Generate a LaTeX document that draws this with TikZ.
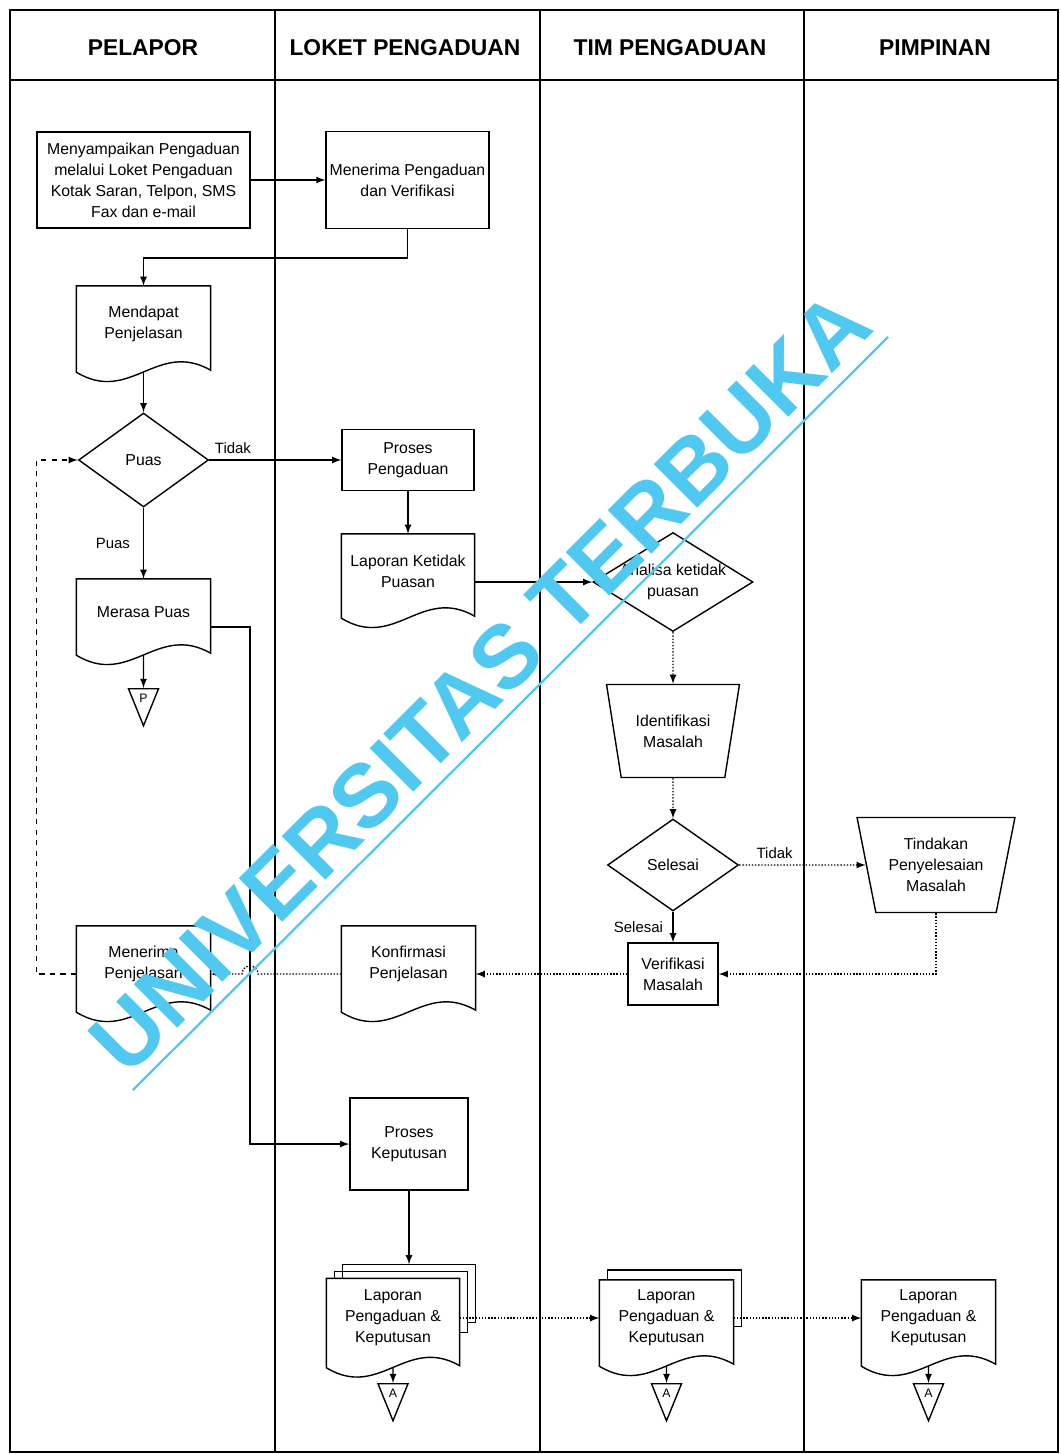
\documentclass[tikz,border=0pt]{standalone}
\usepackage{fontspec}
\setmainfont{Liberation Sans}
\usetikzlibrary{shapes.geometric, calc}
\definecolor{wmcyan}{RGB}{80, 200, 240}

% document outline with wavy bottom, drawn round a named node
\newcommand{\docwave}[1]{%
  \draw (#1.north west) -- ([yshift=-0.2cm]#1.south west)
    .. controls ($(#1.south west)!0.4!(#1.south east)+(0cm,-0.85cm)$) and ($(#1.south west)!0.6!(#1.south east)+(0cm,0.45cm)$)
    .. ([yshift=-0.16cm]#1.south east) -- (#1.north east) -- cycle;}

\begin{document}
\begin{tikzpicture}[
    x=0.02cm, y=-0.02cm,
    line width=0.8pt,
    >=latex,
    font=\fontsize{9}{12}\selectfont,
    box/.style={draw, rectangle, align=center, inner sep=2pt},
    doc/.style={rectangle, align=center, inner sep=2pt, minimum width=2.66cm, minimum height=1.5cm},
    dia/.style={draw, diamond, align=center, inner sep=0pt},
    trap/.style={draw, trapezium, trapezium stretches=true, shape border rotate=180, align=center, inner sep=1pt},
    endtri/.style={draw, isosceles triangle, isosceles triangle stretches, shape border rotate=-90,
                   minimum width=0.6cm, minimum height=0.74cm, inner sep=0pt, font=\fontsize{7}{7}\selectfont},
    lane/.style={line width=1pt},
    head/.style={font=\fontsize{13}{13}\selectfont\bfseries},
    lbl/.style={font=\fontsize{8.5}{10}\selectfont},
    flow/.style={->},
    weak/.style={->, densely dotted}
]
    \useasboundingbox (0,0) rectangle (1061,1454);

    % ==========================================
    % SWIMLANES
    % ==========================================
    \draw[lane] (10,10) rectangle (1058,1452);
    \draw[lane] (10,80) -- (1058,80);
    \foreach \x in {275,540,804} \draw[lane] (\x,10) -- (\x,1452);

    \node[head] (hPelapor)  at (143,48) {PELAPOR};
    \node[head] (hLoket)    at (405,48) {LOKET PENGADUAN};
    \node[head] (hTim)      at (670,48) {TIM PENGADUAN};
    \node[head] (hPimpinan) at (935,48) {PIMPINAN};

    % ==========================================
    % PELAPOR
    % ==========================================
    \node[box, minimum width=4.26cm, minimum height=1.92cm] (kirim) at (143.5,180)
        {Menyampaikan Pengaduan\\melalui Loket Pengaduan\\Kotak Saran, Telpon, SMS\\Fax dan e-mail};
    \node[doc] (mendapat) at (143.5,324) {Mendapat\\Penjelasan};
    \node[dia, minimum width=2.6cm, minimum height=1.88cm] (puas) at (143.5,460) {Puas};
    \node[doc, minimum height=1.3cm] (merasa) at (143.5,612) {Merasa Puas};
    \node[endtri] (tP) at (143.5,698) {P};
    \node[doc] (terima) at (143.5,964) {Menerima\\Penjelasan};

    % ==========================================
    % LOKET PENGADUAN
    % ==========================================
    \node[box, minimum width=3.18cm, minimum height=1.94cm] (verif) at (407.5,180) {Menerima Pengaduan\\dan Verifikasi};
    \node[box, minimum width=2.64cm, minimum height=1.22cm] (proses) at (408,460) {Proses\\Pengaduan};
    \node[doc, minimum width=2.64cm, minimum height=1.46cm] (lapTidak) at (408,571) {Laporan Ketidak\\Puasan};
    \node[doc] (konfirm) at (408.5,964) {Konfirmasi\\Penjelasan};
    \node[box, minimum width=2.36cm, minimum height=1.84cm] (putus) at (409,1144) {Proses\\Keputusan};
    \node[doc, minimum width=2.64cm, minimum height=1.56cm] (lapLoket) at (393,1318) {Laporan\\Pengaduan \&\\Keputusan};
    \node[endtri] (tLoket) at (393,1393) {A};

    % ==========================================
    % TIM PENGADUAN
    % ==========================================
    \node[dia, minimum width=3.2cm, minimum height=1.98cm,
          label={[align=center]center:Analisa ketidak\\puasan}] (analisa) at (673,582) {};
    \node[trap, minimum width=2.66cm, minimum height=1.86cm,
          trapezium left angle=73, trapezium right angle=73] (identif) at (673,731) {Identifikasi\\Masalah};
    \node[dia, minimum width=2.62cm, minimum height=1.84cm] (selesai) at (673,865) {Selesai};
    \node[box, minimum width=1.8cm, minimum height=1.24cm] (verMasalah) at (673,974) {Verifikasi\\Masalah};
    \node[doc] (lapTim) at (666.5,1318) {Laporan\\Pengaduan \&\\Keputusan};
    \node[endtri] (tTim) at (666.5,1393) {A};

    % ==========================================
    % PIMPINAN
    % ==========================================
    \node[trap, minimum width=3.16cm, minimum height=1.9cm,
          trapezium left angle=75, trapezium right angle=75] (tindakan) at (936,865) {Tindakan\\Penyelesaian\\Masalah};
    \node[doc] (lapPimpinan) at (928.5,1318) {Laporan\\Pengaduan \&\\Keputusan};
    \node[endtri] (tPimpinan) at (928.5,1393) {A};

    % document outlines
    \foreach \n in {mendapat,merasa,terima,lapTidak,konfirm,lapLoket,lapTim,lapPimpinan} \docwave{\n};

    % stacked copies behind the reports
    \draw ([xshift=0.16cm]lapLoket.north west) -- ++(0cm,0.14cm) -| ([shift={(0.16cm,0.5cm)}]lapLoket.south east) -- ++(-0.16cm,0cm);
    \draw ([xshift=0.32cm]lapLoket.north west) -- ++(0cm,0.28cm) -| ([shift={(0.32cm,0.7cm)}]lapLoket.south east) -- ++(-0.16cm,0cm);
    \draw ([xshift=0.16cm]lapTim.north west) -- ++(0cm,0.2cm) -| ([shift={(0.16cm,0.6cm)}]lapTim.south east) -- ++(-0.16cm,0cm);

    % ==========================================
    % CONNECTORS
    % ==========================================
    \coordinate (hop) at (250,974);
    \coordinate (stackTop) at ([yshift=0.28cm]lapLoket.north);

    \draw[flow] (kirim.east) -- (verif.west);
    \draw[flow] (verif.south) -- ++(0,29) -| (mendapat.north);
    \draw[flow] ([yshift=-0.2cm]mendapat.south) -- (puas.north);
    \draw[flow] (puas.east) -- (proses.west) node[lbl, pos=0.18, above] {Tidak};
    \draw[flow] (puas.south) -- (merasa.north) node[lbl, midway, left=4pt] {Puas};
    \draw[flow] ([yshift=-0.2cm]merasa.south) -- (tP);
    \draw[flow] (proses.south) -- (lapTidak.north);
    \draw[flow] (lapTidak.east |- analisa.west) -- (analisa.west);
    \draw[weak] (analisa.south) -- (identif);
    \draw[weak] (identif) -- (selesai);
    \draw[weak] (selesai) -- (tindakan) node[lbl, pos=0.28, above] {Tidak};
    \draw[flow] (selesai) -- (verMasalah) node[lbl, midway, left=2pt] {Selesai};
    \draw[weak] (tindakan) |- (verMasalah);
    \draw[weak] (verMasalah.west) -- (verMasalah.west -| konfirm.east);
    \draw[weak] (verMasalah.west -| konfirm.west) -- ([xshift=0.16cm]hop)
        arc[start angle=0, end angle=180, radius=0.16cm] -- (hop -| terima.east);
    \draw[->, dashed] (hop -| terima.west) -- ++(-40,0) |- (puas.west);
    \draw[flow] ([yshift=-0.3cm]merasa.east) -| (hop) |- (putus.west);
    \draw[flow] (putus.south) -- (putus.south |- stackTop);
    \draw[flow] ([yshift=-0.2cm]lapLoket.south) -- (tLoket);
    \draw[weak] (lapLoket.east) -- (lapTim.west);
    \draw[flow] ([yshift=-0.2cm]lapTim.south) -- (tTim);
    \draw[weak] (lapTim.east) -- (lapPimpinan.west);
    \draw[flow] ([yshift=-0.2cm]lapPimpinan.south) -- (tPimpinan);

    % ==========================================
    % WATERMARK
    % ==========================================
    \node[rotate=45, text=wmcyan, font=\fontsize{51}{51}\selectfont\bfseries] (wmark) at (480,682) {UNIVERSITAS TERBUKA};
    \draw[wmcyan, line width=1.3pt] (133,1090) -- (888,337);

\end{tikzpicture}
\end{document}
